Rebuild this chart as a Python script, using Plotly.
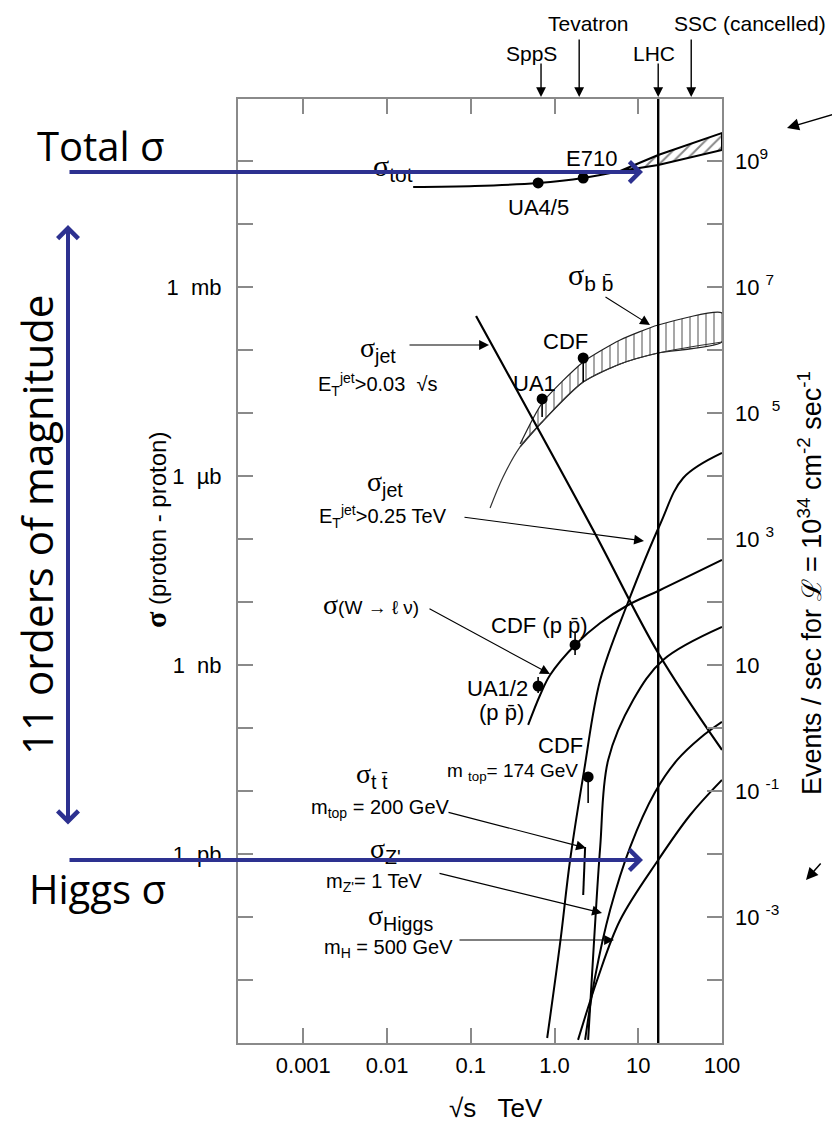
import numpy as np
import plotly.graph_objects as go

# ---------------- data : sqrt(s) in TeV, sigma in mb ----------------
collider_names = ["SppS", "Tevatron", "LHC", "SSC (cancelled)"]
collider_sqrt_s = [0.69, 1.97, 17.3, 42.9]
lhc_sqrt_s = 17.3

tot_sqrt_s = [0.0205, 0.112, 0.637, 2.20, 6.08]
tot_sigma = [38.7, 40.1, 44.8, 53.7, 69.4]
tot_band_sqrt_s = [6.08, 17.3, 100.0]
tot_band_hi = [69.4, 124.5, 278.0]
tot_band_lo = [69.4, 86.4, 149.6]
tot_data_names = ["UA4/5", "E710"]
tot_data_sqrt_s = [0.637, 2.20]
tot_data_sigma = [44.8, 53.7]

bb_hi_sqrt_s = [0.388, 0.711, 2.20, 6.08, 17.3, 100.0]
bb_hi = [3.22e-3, 1.44e-2, 6.45e-2, 0.144, 0.249, 0.387]
bb_lo_sqrt_s = [0.170, 0.243, 0.388, 0.711, 2.20, 6.08, 17.3, 100.0]
bb_lo = [3.10e-4, 9.65e-4, 2.89e-3, 7.20e-3, 3.10e-2, 6.0e-2, 8.96e-2, 0.134]
bb_data_names = ["UA1", "CDF"]
bb_data_sqrt_s = [0.711, 2.20]
bb_data_sigma = [1.67e-2, 7.46e-2]
bb_data_low = [8.64e-3, 3.10e-2]

jet_frac_sqrt_s = [0.1156, 2.89, 17.3, 100.0]
jet_frac_sigma = [0.347, 1.39e-4, 1.55e-6, 4.48e-8]

jet_fixed_sqrt_s = [100.0, 34.4, 18.3, 7.57, 3.51, 2.26, 1.535, 1.167, 0.817]
jet_fixed_sigma = [2.32e-3, 9.3e-4, 1.73e-4, 1.0e-5, 5.78e-7, 2.15e-8, 8.03e-10, 3.87e-11, 1.20e-12]

w_sqrt_s = [0.484, 0.673, 0.885, 1.76, 3.51, 7.57, 18.3, 100.0]
w_sigma = [1.12e-7, 3.34e-7, 6.94e-7, 2.08e-6, 4.64e-6, 8.96e-6, 1.55e-5, 4.64e-5]
w_data_sqrt_s = [0.637, 1.76]
w_data_sigma = [4.64e-7, 2.08e-6]
w_data_low = [3.59e-7, 1.44e-6]
w_data_high = [6.45e-7, 3.22e-6]

tt_sqrt_s = [100.0, 19.8, 8.69, 4.37, 3.51, 2.97, 2.52]
tt_sigma = [4.01e-6, 1.20e-6, 2.78e-7, 3.11e-8, 1.29e-9, 4.32e-11, 1.12e-12]
tt_data_sqrt_s = [2.52]
tt_data_sigma = [1.67e-8]
tt_data_low = [6.45e-9]
tt200_sqrt_s = [2.32, 2.20]
tt200_sigma = [1.29e-9, 2.23e-10]

zp_sqrt_s = [100.0, 54.9, 29.2, 15.9, 8.00, 4.61, 3.05, 2.32]
zp_sigma = [1.25e-7, 6.94e-8, 3.11e-8, 9.64e-9, 1.29e-9, 1.29e-10, 1.12e-11, 1.12e-12]

h_sqrt_s = [100.0, 41.7, 17.3, 6.08, 3.23, 1.91]
h_sigma = [1.50e-8, 4.16e-9, 8.03e-10, 8.96e-11, 1.0e-11, 1.12e-12]

# axis ticks / labels
x_ticks = [0.001, 0.01, 0.1, 1.0, 10, 100]
x_ticktext = ["0.001", "0.01", "0.1", "1.0", "10", "100"]
y_decades = list(range(-12, 3))
y_labels = {0: "1  mb", -3: "1  \u00b5b", -6: "1  nb", -9: "1  pb"}
rate_ticks = [1e9, 1e7, 1e5, 1e3, 10, 0.1, 1e-3]
rate_ticktext = ["10<sup>9</sup>", "10 <sup>7</sup>", "10  <sup>5</sup>", "10 <sup>3</sup>",
                 "10", "10 <sup>-1</sup>", "10 <sup>-3</sup>"]
lumi_factor = 1e7  # events/s per mb at L = 1e34 cm^-2 s^-1

# ---------------- figure ----------------
SANS = "Liberation Sans, Arial, sans-serif"
SIG = "<span style='font-family:Liberation Serif'>\u03c3</span>"
GRAY = "#8a8a8a"
BLUE = "#2d3190"
FS = 22

fig = go.Figure()

def curve(x, y, width=2.0, color="black", shape="spline", **kw):
    fig.add_trace(go.Scatter(x=x, y=y, mode="lines", line=dict(color=color, width=width, shape=shape, smoothing=1.0),
                             showlegend=False, hoverinfo="skip", **kw))

# sigma_tot
curve(tot_sqrt_s, tot_sigma)
fig.add_trace(go.Scatter(x=tot_band_sqrt_s + tot_band_sqrt_s[::-1], y=tot_band_hi + tot_band_lo[::-1],
                         mode="lines", fill="toself", fillcolor="rgba(0,0,0,0)",
                         fillpattern=dict(shape="/", size=8, solidity=0.25, fgcolor="#111", bgcolor="rgba(0,0,0,0)"),
                         line=dict(color="black", width=2), showlegend=False, hoverinfo="skip"))

# b bbar band
fig.add_trace(go.Scatter(x=bb_hi_sqrt_s + bb_lo_sqrt_s[2:][::-1], y=bb_hi + bb_lo[2:][::-1],
                         mode="lines", fill="toself", fillcolor="rgba(0,0,0,0)",
                         fillpattern=dict(shape="|", size=8, solidity=0.2, fgcolor="#222", bgcolor="rgba(0,0,0,0)"),
                         line=dict(color="#222", width=1.2, shape="spline", smoothing=0.6),
                         showlegend=False, hoverinfo="skip"))
curve(bb_lo_sqrt_s, bb_lo, width=1.2, color="#333")

# jets, W, top, Z', Higgs
curve(jet_frac_sqrt_s, jet_frac_sigma, width=2.2)
curve(jet_fixed_sqrt_s, jet_fixed_sigma)
curve(w_sqrt_s, w_sigma)
curve(tt_sqrt_s, tt_sigma)
curve(tt200_sqrt_s, tt200_sigma, shape="linear")
curve(zp_sqrt_s, zp_sigma)
curve(h_sqrt_s, h_sigma)

# LHC vertical line
curve([lhc_sqrt_s, lhc_sqrt_s], [1e-12, 1e3], width=2.4, shape="linear")

# data points with error bars
for xs, ys, lo in [(bb_data_sqrt_s, bb_data_sigma, bb_data_low), (tt_data_sqrt_s, tt_data_sigma, tt_data_low)]:
    for xv, yv, lv in zip(xs, ys, lo):
        curve([xv, xv], [yv, lv], width=1.6, shape="linear")
for xv, lv, hv in zip(w_data_sqrt_s, w_data_low, w_data_high):
    curve([xv, xv], [lv, hv], width=1.6, shape="linear")
fig.add_trace(go.Scatter(
    x=tot_data_sqrt_s + bb_data_sqrt_s + w_data_sqrt_s + tt_data_sqrt_s,
    y=tot_data_sigma + bb_data_sigma + w_data_sigma + tt_data_sigma,
    mode="markers", marker=dict(color="black", size=11), showlegend=False, hoverinfo="skip"))

# invisible trace on the rate axis
fig.add_trace(go.Scatter(x=[1.0], y=[1.0 * lumi_factor], yaxis="y2", mode="markers",
                         marker=dict(opacity=0), showlegend=False, hoverinfo="skip"))

# ---------------- annotations (positions given in page pixels) ----------------
L, T, W, H = 238, 99, 484, 944   # plot area on the page
ann = []

def pp(x, y):
    return (x - L) / W, (T + H - y) / H

def label(text, x, y, size=FS, angle=0, family=SANS, color="black", xanchor="center"):
    xp, yp = pp(x, y)
    ann.append(dict(text=text, x=xp, y=yp, xref="paper", yref="paper", showarrow=False,
                    xanchor=xanchor, yanchor="middle", textangle=angle,
                    font=dict(size=size, family=family, color=color)))

def arrow(x0, y0, x1, y1, color="black", width=1.1, head=2, size=1.8, side="end"):
    xp, yp = pp(x1, y1)
    d = dict(x=xp, y=yp, xref="paper", yref="paper", ax=x0 - x1, ay=y0 - y1,
             axref="pixel", ayref="pixel", showarrow=True, arrowhead=head, arrowsize=size,
             arrowwidth=width, arrowcolor=color, text="", standoff=0, startstandoff=0, arrowside=side)
    if "start" in side:
        d.update(startarrowhead=head, startarrowsize=size)
    ann.append(d)

# collider arrows at top
for name, e in zip(collider_names, collider_sqrt_s):
    tail = 38 if name in ("Tevatron", "SSC (cancelled)") else 62
    ann.append(dict(x=np.log10(e), y=pp(0, 97)[1], xref="x", yref="paper", ax=0, ay=tail - 97,
                    axref="pixel", ayref="pixel", showarrow=True, arrowhead=2, arrowsize=1.4,
                    arrowwidth=1.4, arrowcolor="black", text="", standoff=0))
label("Tevatron", 588, 23, size=21)
label("SSC (cancelled)", 750, 23, size=21)
label("SppS", 531, 53, size=21)
label("LHC", 654, 53, size=21)

# curve labels
label(SIG + "<sub>tot</sub>", 393, 168, size=30)
label("E710", 591, 158)
label("UA4/5", 538, 208)
label(SIG + "<sub>b b\u0304</sub>", 590, 276, size=30)
arrow(604, 296, 650, 325)
label("CDF", 565, 341)
label("UA1", 534, 383)
label(SIG + "<sub>jet</sub>", 378, 349, size=28)
label("E<sub>T</sub><sup>jet</sup>>0.03  \u221as", 377, 384, size=20)
arrow(408, 345, 489, 345)
label(SIG + "<sub>jet</sub>", 385, 484, size=28)
label("E<sub>T</sub><sup>jet</sup>>0.25 TeV", 383, 516, size=20)
arrow(463, 517, 644, 541)
label(SIG + "<span style='font-size:19px'>(W \u2192 \u2113 \u03bd)</span>", 371, 604, size=28)
arrow(428, 608, 550, 674)
label("CDF (p p\u0304)", 539, 625)
label("UA1/2", 497, 688)
label("(p p\u0304)", 501, 712)
label("CDF", 560, 745)
label("m <sub>top</sub>= 174 GeV", 512, 772, size=19)
label(SIG + "<sub>t t\u0304</sub>", 372, 776, size=28)
label("m<sub>top</sub> = 200 GeV", 380, 808, size=20)
arrow(447, 812, 586, 848)
label(SIG + "<sub>Z'</sub>", 385, 850, size=28)
label("m<sub>Z'</sub>= 1 TeV", 374, 882, size=20)
arrow(438, 873, 602, 913)
label(SIG + "<sub>Higgs</sub>", 400, 917, size=28)
label("m<sub>H</sub> = 500 GeV", 388, 948, size=20)
arrow(458, 940, 614, 940)

# axis titles
label("\u221as   TeV", 496, 1108, size=26)
label("<span style='font-family:Liberation Serif;font-size:30px'><b>\u03c3</b></span> (proton - proton)",
      155, 530, size=24, angle=-90, family="Liberation Sans Narrow, Liberation Sans")
label("Events / sec for <span style='font-family:DejaVu Serif'>\u2112</span> = 10<sup>34</sup> cm<sup>-2</sup> sec<sup>-1</sup>",
      810, 583, size=27, angle=-90, family="Liberation Sans Narrow, Liberation Sans")

# side arrows (black)
arrow(838, 113, 787, 128, width=1.5, size=1.6)
arrow(822, 862, 806, 880, width=1.5, size=1.6)

# presentation overlays (blue)
arrow(68, 172, 643, 172, color=BLUE, width=4, head=4, size=1.0)
arrow(68, 860, 643, 860, color=BLUE, width=4, head=4, size=1.0)
arrow(68, 826, 68, 225, color=BLUE, width=4, head=4, size=1.0, side="end+start")
label("Total \u03c3", 101, 145, size=40, family="Open Sans")
label("Higgs \u03c3", 97, 888, size=40, family="Open Sans")
label("11 orders of magnitude", 36, 525, size=42, angle=-90, family="Open Sans")

# the page is offset by the 8 px default body margin
OFF = 8
fig.update_layout(
    width=840 - OFF, height=1124 - OFF,
    margin=dict(l=L - OFF, r=840 - L - W, t=T - OFF, b=1124 - T - H),
    paper_bgcolor="white", plot_bgcolor="white",
    showlegend=False,
    font=dict(family=SANS, color="black"),
    annotations=ann,
    xaxis=dict(type="log", range=[-3.78, 2.0], tickvals=x_ticks, ticktext=x_ticktext,
               ticks="inside", ticklen=15, tickwidth=2, tickcolor=GRAY,
               showline=True, linecolor=GRAY, linewidth=2, mirror="ticks",
               showgrid=False, zeroline=False, tickfont=dict(size=FS, family=SANS),
               ticklabelstandoff=2),
    yaxis=dict(type="log", range=[-12.0, 2.984],
               tickvals=[10.0 ** k for k in y_decades],
               ticktext=[y_labels.get(k, "") for k in y_decades],
               ticks="inside", ticklen=15, tickwidth=2, tickcolor=GRAY,
               showline=True, linecolor=GRAY, linewidth=2, mirror="ticks",
               showgrid=False, zeroline=False, tickfont=dict(size=FS, family=SANS),
               ticklabelstandoff=10),
    yaxis2=dict(type="log", range=[-12.0 + 7, 2.984 + 7], overlaying="y", side="right",
                tickvals=rate_ticks, ticktext=rate_ticktext, ticks="",
                showline=False, showgrid=False, zeroline=False,
                tickfont=dict(size=FS, family=SANS), ticklabelstandoff=12),
)

fig.write_html("out.html")
